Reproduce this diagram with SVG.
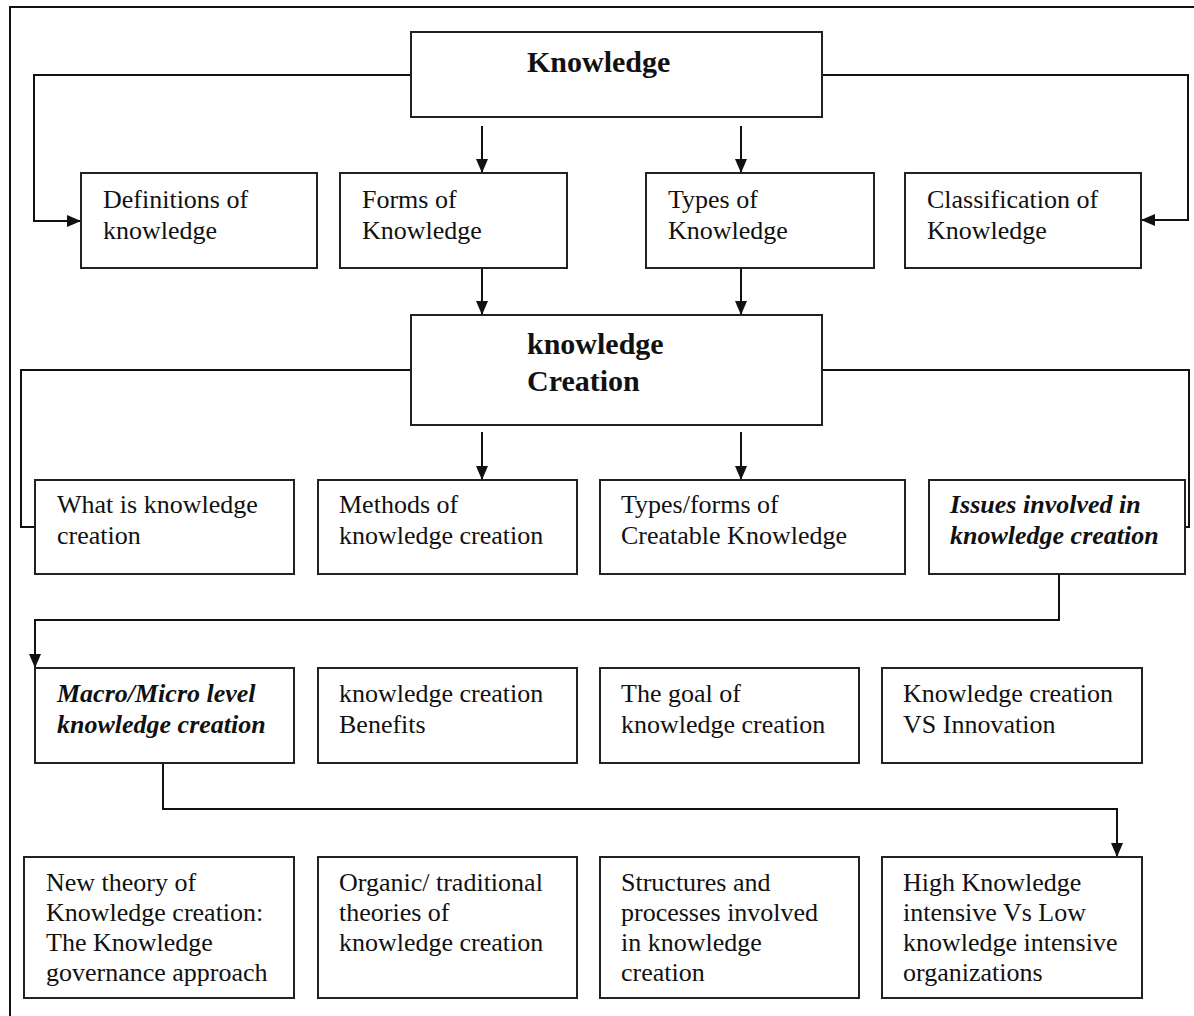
<svg xmlns="http://www.w3.org/2000/svg" width="1194" height="1016" viewBox="0 0 1194 1016">
<style>
.box{fill:#fff;stroke:#222;stroke-width:2}
.t{font-family:"Liberation Serif","Times New Roman",serif;font-size:26px;fill:#111}
.b{font-family:"Liberation Serif","Times New Roman",serif;font-size:30px;font-weight:bold;fill:#111}
.bi{font-weight:bold;font-style:italic}
.c{fill:none;stroke:#111;stroke-width:2}
</style>
<defs>
<marker id="ah" viewBox="0 0 14 12" refX="14" refY="6" markerWidth="14" markerHeight="12" markerUnits="userSpaceOnUse" orient="auto">
<path d="M0,0 L14,6 L0,12 Z" fill="#111"/>
</marker>
</defs>
<rect x="10" y="7" width="1200" height="1020" fill="none" stroke="#111" stroke-width="2"/>
<g id="connectors">
<path class="c" d="M411,75 H34 V221 H81" marker-end="url(#ah)"/>
<path class="c" d="M822,75 H1188 V220 H1141" marker-end="url(#ah)"/>
<path class="c" d="M482,126 V173" marker-end="url(#ah)"/>
<path class="c" d="M741,126 V173" marker-end="url(#ah)"/>
<path class="c" d="M482,268 V315" marker-end="url(#ah)"/>
<path class="c" d="M741,268 V315" marker-end="url(#ah)"/>
<path class="c" d="M411,370 H21 V527 H35"/>
<path class="c" d="M822,370 H1189 V527 H1185"/>
<path class="c" d="M482,432 V480" marker-end="url(#ah)"/>
<path class="c" d="M741,432 V480" marker-end="url(#ah)"/>
<path class="c" d="M1059,574 V620 H35 V668" marker-end="url(#ah)"/>
<path class="c" d="M163,763 V809 H1117 V857" marker-end="url(#ah)"/>
</g>
<g id="knowledge"><rect class="box" x="411" y="32" width="411" height="85"/><text class="b" x="527" y="72">Knowledge</text></g>
<g id="definitions"><rect class="box" x="81" y="173" width="236" height="95"/><text class="t" x="103" y="208">Definitions of</text><text class="t" x="103" y="239">knowledge</text></g>
<g id="forms"><rect class="box" x="340" y="173" width="227" height="95"/><text class="t" x="362" y="208">Forms of</text><text class="t" x="362" y="239">Knowledge</text></g>
<g id="types"><rect class="box" x="646" y="173" width="228" height="95"/><text class="t" x="668" y="208">Types of</text><text class="t" x="668" y="239">Knowledge</text></g>
<g id="classification"><rect class="box" x="905" y="173" width="236" height="95"/><text class="t" x="927" y="208">Classification of</text><text class="t" x="927" y="239">Knowledge</text></g>
<g id="kcreation"><rect class="box" x="411" y="315" width="411" height="110"/><text class="b" x="527" y="354">knowledge</text><text class="b" x="527" y="391">Creation</text></g>
<g id="whatis"><rect class="box" x="35" y="480" width="259" height="94"/><text class="t" x="57" y="513">What is knowledge</text><text class="t" x="57" y="544">creation</text></g>
<g id="methods"><rect class="box" x="318" y="480" width="259" height="94"/><text class="t" x="339" y="513">Methods of</text><text class="t" x="339" y="544">knowledge creation</text></g>
<g id="typesforms"><rect class="box" x="600" y="480" width="305" height="94"/><text class="t" x="621" y="513">Types/forms of</text><text class="t" x="621" y="544">Creatable Knowledge</text></g>
<g id="issues"><rect class="box" x="929" y="480" width="256" height="94"/><text class="t bi" x="950" y="513">Issues involved in</text><text class="t bi" x="950" y="544">knowledge creation</text></g>
<g id="macro"><rect class="box" x="35" y="668" width="259" height="95"/><text class="t bi" x="57" y="702">Macro/Micro level</text><text class="t bi" x="57" y="733">knowledge creation</text></g>
<g id="benefits"><rect class="box" x="318" y="668" width="259" height="95"/><text class="t" x="339" y="702">knowledge creation</text><text class="t" x="339" y="733">Benefits</text></g>
<g id="goal"><rect class="box" x="600" y="668" width="259" height="95"/><text class="t" x="621" y="702">The goal of</text><text class="t" x="621" y="733">knowledge creation</text></g>
<g id="vsinnovation"><rect class="box" x="882" y="668" width="260" height="95"/><text class="t" x="903" y="702">Knowledge creation</text><text class="t" x="903" y="733">VS Innovation</text></g>
<g id="newtheory"><rect class="box" x="24" y="857" width="270" height="141"/><text class="t" x="46" y="891">New theory of</text><text class="t" x="46" y="921">Knowledge creation:</text><text class="t" x="46" y="951">The Knowledge</text><text class="t" x="46" y="981">governance approach</text></g>
<g id="organic"><rect class="box" x="318" y="857" width="259" height="141"/><text class="t" x="339" y="891">Organic/ traditional</text><text class="t" x="339" y="921">theories of</text><text class="t" x="339" y="951">knowledge creation</text></g>
<g id="structures"><rect class="box" x="600" y="857" width="259" height="141"/><text class="t" x="621" y="891">Structures and</text><text class="t" x="621" y="921">processes involved</text><text class="t" x="621" y="951">in knowledge</text><text class="t" x="621" y="981">creation</text></g>
<g id="highlow"><rect class="box" x="882" y="857" width="260" height="141"/><text class="t" x="903" y="891">High Knowledge</text><text class="t" x="903" y="921">intensive Vs Low</text><text class="t" x="903" y="951">knowledge intensive</text><text class="t" x="903" y="981">organizations</text></g>
</svg>
